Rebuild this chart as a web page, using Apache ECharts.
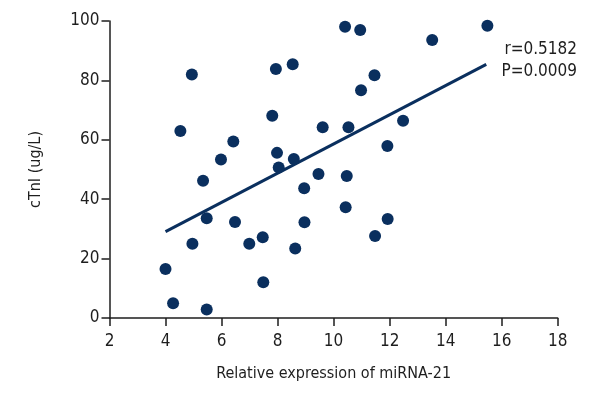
<!DOCTYPE html>
<html>
<head>
<meta charset="utf-8">
<script src="https://cdn.jsdelivr.net/npm/echarts@6/dist/echarts.min.js"></script>
<style>html,body{margin:0;padding:0;background:#fff}#c{width:600px;height:400px}</style>
</head>
<body>
<div id="c"></div>
<script>
var miRNA21 = [4.0, 4.27, 4.53, 4.94, 4.96, 5.34, 5.47, 5.47, 5.98, 6.42, 6.48, 6.99, 7.47, 7.49, 7.81, 7.94, 7.98, 8.04, 8.54, 8.58, 8.63, 8.95, 8.96, 9.46, 9.61, 10.41, 10.53, 10.47, 10.43, 10.95, 10.98, 11.46, 11.48, 11.92, 11.93, 12.48, 13.52, 15.49];
var cTnI = [16.5, 5.0, 63.0, 82.0, 25.0, 46.2, 33.6, 2.9, 53.4, 59.4, 32.3, 25.0, 27.2, 12.0, 68.1, 83.8, 55.6, 50.7, 85.4, 53.5, 23.4, 43.7, 32.2, 48.5, 64.2, 98.1, 64.2, 47.8, 37.3, 97.0, 76.7, 81.7, 27.6, 57.9, 33.3, 66.4, 93.6, 98.4];
var fitX = [4.0, 15.45];
var fitY = [29.1, 85.4];
var xTicks = [2, 4, 6, 8, 10, 12, 14, 16, 18];
var yTicks = [0, 20, 40, 60, 80, 100];
var statsText = ['r=0.5182', 'P=0.0009'];

var FONT = '"DejaVu Sans Condensed", "Liberation Sans", sans-serif';
var NAVY = '#0a2f5e';
var AX = '#1e1e1e';

var pts = miRNA21.map(function (x, i) { return [x, cTnI[i]]; });
var line = fitX.map(function (x, i) { return [x, fitY[i]]; });

var chart = echarts.init(document.getElementById('c'), null, { renderer: 'canvas' });
chart.setOption({
  animation: false,
  backgroundColor: '#fff',
  grid: { left: 109.5, right: 42.3, top: 21, bottom: 82, containLabel: false },
  xAxis: {
    type: 'value', min: xTicks[0], max: xTicks[xTicks.length - 1], interval: 2,
    name: 'Relative expression of miRNA-21', nameLocation: 'middle', nameGap: 48,
    nameTextStyle: { fontFamily: FONT, fontSize: 16, color: AX },
    axisLine: { show: true, lineStyle: { color: AX, width: 1.5 } },
    axisTick: { show: true, length: 8, inside: false, lineStyle: { color: AX, width: 1.5 } },
    axisLabel: { fontFamily: FONT, fontSize: 17, color: AX, margin: 15 },
    splitLine: { show: false }
  },
  yAxis: {
    type: 'value', min: yTicks[0], max: yTicks[yTicks.length - 1], interval: 20,
    name: 'cTnI (ug/L)', nameLocation: 'middle', nameGap: 66, nameRotate: 90,
    nameTextStyle: { fontFamily: FONT, fontSize: 16, color: AX },
    axisLine: { show: true, lineStyle: { color: AX, width: 1.5 } },
    axisTick: { show: true, length: 8, lineStyle: { color: AX, width: 1.5 } },
    axisLabel: { fontFamily: FONT, fontSize: 17, color: AX, margin: 10 },
    splitLine: { show: false }
  },
  series: [
    {
      type: 'line', data: line, symbol: 'none', z: 1,
      lineStyle: { color: NAVY, width: 3 }
    },
    {
      type: 'scatter', data: pts, symbol: 'circle', symbolSize: 12, z: 2,
      itemStyle: { color: NAVY, opacity: 1 }
    }
  ],
  graphic: [
    { type: 'text', right: 23, top: 41, style: { text: statsText[0], font: '17px ' + FONT, fill: AX } },
    { type: 'text', right: 23, top: 63, style: { text: statsText[1], font: '17px ' + FONT, fill: AX } }
  ]
});
</script>
</body>
</html>
